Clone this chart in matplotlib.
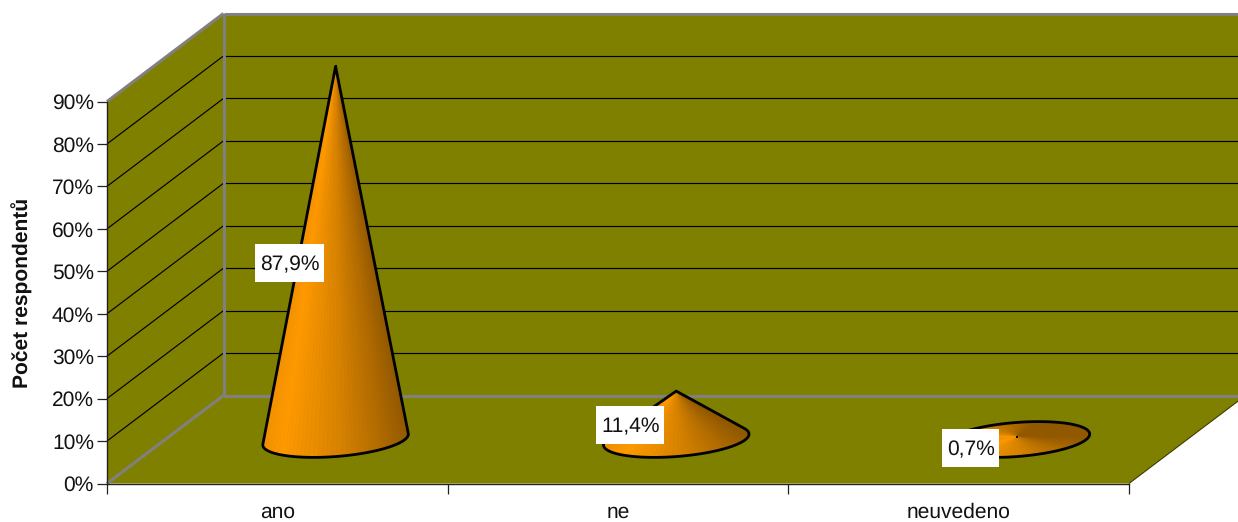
import numpy as np
import matplotlib
matplotlib.use("Agg")
import matplotlib.pyplot as plt
from matplotlib.collections import PolyCollection
from matplotlib.colors import LinearSegmentedColormap
from matplotlib.patches import Polygon, Rectangle
from matplotlib.ticker import PercentFormatter
from matplotlib.transforms import IdentityTransform

categories = ["ano", "ne", "neuvedeno"]
values = [87.9, 11.4, 0.7]
value_labels = ["87,9%", "11,4%", "0,7%"]
y_ticks = [0, 10, 20, 30, 40, 50, 60, 70, 80, 90]
y_title = "Počet respondentů"

W, H = 1238, 522
plt.rcParams["font.family"] = ["Liberation Sans", "DejaVu Sans"]
plt.rcParams["font.size"] = 15.2
plt.rcParams["text.hinting"] = "no_hinting"
plt.rcParams["text.hinting_factor"] = 1

OLIVE = "#808000"
GREY = "#808080"
INK = "#000000"

fig = plt.figure(figsize=(W / 100, H / 100), dpi=100, facecolor="white")
L, R, T, B = 107.0, 1129.0, 101.5, 483.5
ax = fig.add_axes([L / W, 1 - B / H, (R - L) / W, (B - T) / H])
ax.set_xlim(0, 3)
ax.set_ylim(0, 90)
ax.patch.set_visible(False)

px_x = 3 / (R - L)          # data units per pixel, horizontally
px_y = 90 / (B - T)         # data units per pixel, vertically
DX, DY = 116.5 * px_x, 88 * px_y   # depth of the 3D box


def poly(pts, **kw):
    p = Polygon(pts, closed=True, clip_on=False, **kw)
    ax.add_patch(p)
    return p


def line(xs, ys, **kw):
    ax.plot(xs, ys, clip_on=False, solid_capstyle="butt", **kw)


# floor and walls
poly([(0, 0), (3, 0), (3 + DX, DY), (DX, DY)], fc=OLIVE, ec="none", zorder=1)
poly([(0, 0), (DX, DY), (DX, 90 + DY), (0, 90)], fc=OLIVE, ec="none", zorder=1)
poly([(DX, DY), (3 + DX, DY), (3 + DX, 90 + DY), (DX, 90 + DY)], fc=OLIVE, ec="none", zorder=1)

# gridlines
for v in y_ticks:
    edge = v in (y_ticks[0], y_ticks[-1])
    c, w = (GREY, 2.2) if edge else (INK, 0.85)
    line([0, DX], [v, v + DY], color=c, lw=w, zorder=2)
    line([DX, 3 + DX], [v + DY, v + DY], color=c, lw=w, zorder=2)
line([DX, DX], [DY, 90 + DY], color=GREY, lw=2.2, zorder=3)
line([3, 3 + DX], [0, DY], color="#3c3c00", lw=0.8, zorder=2)

# axes furniture
for s in ("top", "right"):
    ax.spines[s].set_visible(False)
for s in ("left", "bottom"):
    ax.spines[s].set_color("#222222")
    ax.spines[s].set_linewidth(1.0)
    ax.spines[s].set_zorder(6)
ax.set_yticks(y_ticks)
ax.yaxis.set_major_formatter(PercentFormatter(xmax=100, decimals=0))
ax.tick_params(axis="y", length=7.2, width=0.9, pad=2.2, color="#222222", labelcolor="#111111")
ax.set_xticks(range(len(categories) + 1))
ax.set_xticklabels([])
ax.set_xticks(np.arange(len(categories)) + 0.5, categories, minor=True)
ax.tick_params(axis="x", which="major", length=7.2, width=0.9, color="#222222")
ax.tick_params(axis="x", which="minor", length=0, pad=13.5, labelcolor="#111111")
ax.set_ylabel(y_title, fontweight="bold", fontsize=15, color="#111111")
ax.yaxis.set_label_coords((33 - L) / (R - L), (B - 292.5) / (B - T))

# cones
cmap = LinearSegmentedColormap.from_list(
    "cone", [(0, "#F29100"), (0.13, "#FF9900"), (0.5, "#D98300"), (0.8, "#B26B00"), (1, "#925800")]
)
A, E, TILT = 73.0, 17.0, np.radians(4.5)
theta = np.linspace(0, 2 * np.pi, 97)
ex_px = A * np.cos(theta) * np.cos(TILT) - E * np.sin(theta) * np.sin(TILT)
ey_px = A * np.cos(theta) * np.sin(TILT) + E * np.sin(theta) * np.cos(TILT)


def hull(points):
    pts = sorted(set(map(tuple, points)))
    def half(seq):
        out = []
        for p in seq:
            while len(out) > 1 and (out[-1][0] - out[-2][0]) * (p[1] - out[-2][1]) - (out[-1][1] - out[-2][1]) * (p[0] - out[-2][0]) <= 0:
                out.pop()
            out.append(p)
        return out[:-1]
    return half(pts) + half(pts[::-1])


for i, val in enumerate(values):
    cx, cy = i + 0.5 + DX / 2, DY / 2
    ex, ey = cx + ex_px * px_x, cy + ey_px * px_y
    apex = (cx, cy + val)
    mids = 0.5 * (theta[:-1] + theta[1:])
    t = 0.5 + 0.5 * np.cos(mids) + 0.35 * np.maximum(0, np.sin(mids))
    order = np.argsort(-np.sin(mids))
    tris = [[apex, (ex[k], ey[k]), (ex[k + 1], ey[k + 1])] for k in order]
    cols = cmap(np.clip(t[order], 0, 1))
    ax.add_collection(PolyCollection(tris, facecolors=cols, edgecolors=cols, linewidths=0.4,
                                     clip_on=False, zorder=4))
    scale = np.array([px_x, px_y])
    h = hull(np.vstack([np.c_[ex, ey], [apex]]) / scale)
    poly(np.array(h) * scale, fc="none", ec=INK, lw=2.0, joinstyle="round", zorder=5)
    ax.plot(*apex, marker="s", ms=2.0, color=INK, mew=0, clip_on=False, zorder=5)

# data labels on white boxes
fig.canvas.draw()
renderer = fig.canvas.get_renderer()
for i, (val, lab) in enumerate(zip(values, value_labels)):
    tx = i + 0.5 + DX / 2 - 46 * px_x
    ty = DY / 2 + val / 2 - 9.5 * px_y
    txt = ax.text(tx, ty, lab, ha="center", va="center_baseline", color="#111111", zorder=8, clip_on=False)
    bb = txt.get_window_extent(renderer)
    xc, yc = ax.transData.transform((tx, ty))
    ax.add_artist(Rectangle((bb.x0 - 4.5, yc - 19.5), bb.width + 9, 38, transform=IdentityTransform(),
                            fc="white", ec="none", zorder=7, clip_on=False))

fig.savefig("out.png", dpi=100)
